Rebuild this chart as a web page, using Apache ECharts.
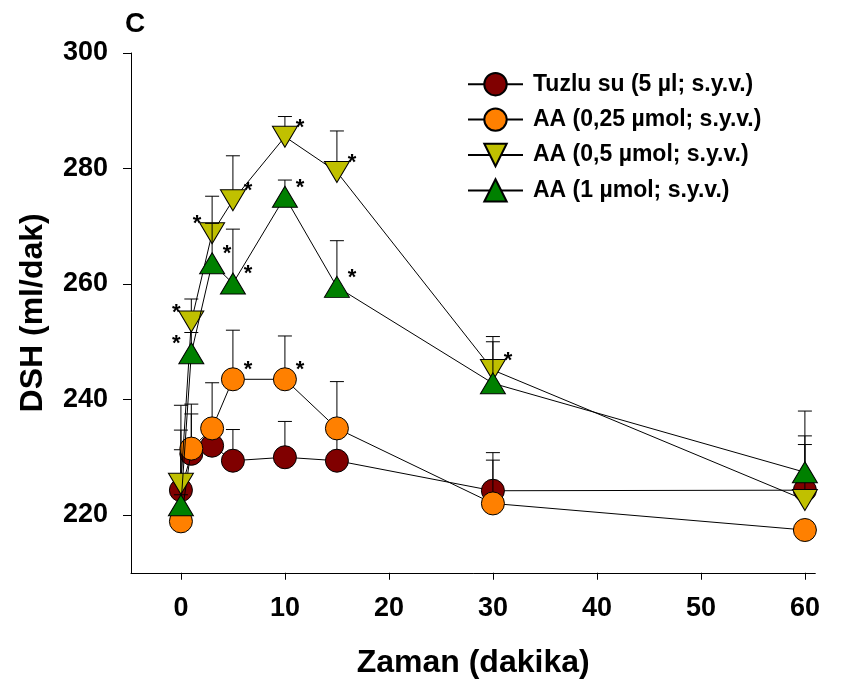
<!DOCTYPE html>
<html>
<head>
<meta charset="utf-8">
<title>DSH</title>
<script src="https://cdn.jsdelivr.net/npm/echarts@6/dist/echarts.min.js"></script>
<style>
  html, body { margin: 0; padding: 0; background: #fff; }
  #main { width: 842px; height: 688px; }
</style>
</head>
<body>
<div id="main"></div>
<script>
// zaman noktalari (dakika)
var times = [0, 1, 3, 5, 10, 15, 30, 60];

// ortalama degerler ve hata cubugu ust uclari
var tuzlu = [224.3, 230.6, 232.0, 229.4, 230.0, 229.4, 224.2, 224.3];
var tuzluHi = [234.7, 237.5, 234.5, 234.8, 236.2, 234.0, 230.8, 232.2];
var aa025 = [218.9, 231.5, 235.0, 243.5, 243.5, 235.0, 222.0, 217.4];
var aa025Hi = [231.3, 239.2, 242.9, 252.0, 251.0, 243.1, 229.5, 218.5];
var aa05 = [225.4, 253.5, 268.8, 274.5, 285.5, 279.4, 245.1, 222.6];
var aa05Hi = [239.0, 257.4, 275.2, 282.2, 289.0, 286.5, 250.9, 233.7];
var aa1 = [221.7, 248.0, 263.6, 260.1, 275.1, 259.5, 242.8, 227.4];
var aa1Hi = [223.5, 251.6, 270.5, 269.5, 278.0, 267.5, 250.0, 238.0];

// anlamlilik yildizlari: 'r' sag, 'l' sol, '' yok
var tuzluSig = ['', '', '', '', '', '', '', ''];
var aa025Sig = ['', '', '', 'r', 'r', '', '', ''];
var aa05Sig = ['', 'l', 'l', 'r', 'r', 'r', 'r', ''];
var aa1Sig = ['', 'l', 'r', 'r', 'r', 'r', '', ''];

var names = [
  'Tuzlu su (5 µl; s.y.v.)',
  'AA (0,25 µmol; s.y.v.)',
  'AA (0,5 µmol; s.y.v.)',
  'AA (1 µmol; s.y.v.)'
];

var xTicks = [0, 10, 20, 30, 40, 50, 60];
var yTicks = [220, 240, 260, 280, 300];

var FONT = 'Liberation Sans, Arial, sans-serif';

var groups = [
  { name: names[0], vals: tuzlu, hi: tuzluHi, sig: tuzluSig, color: '#800000', symbol: 'circle', size: 23, rotate: 0 },
  { name: names[1], vals: aa025, hi: aa025Hi, sig: aa025Sig, color: '#ff8000', symbol: 'circle', size: 23, rotate: 0 },
  { name: names[2], vals: aa05, hi: aa05Hi, sig: aa05Sig, color: '#c0c000', symbol: 'triangle', size: [25, 21], rotate: 180 },
  { name: names[3], vals: aa1, hi: aa1Hi, sig: aa1Sig, color: '#008000', symbol: 'triangle', size: [25, 21], rotate: 0 }
];

var series = [];
groups.forEach(function (g, gi) {
  var rows = times.map(function (t, i) { return [t, g.vals[i], g.hi[i]]; });
  // hata cubuklari (sadece ust)
  series.push({
    type: 'custom',
    data: rows,
    z: 1 + gi * 3,
    silent: true,
    encode: { x: 0, y: [1, 2] },
    renderItem: function (params, api) {
      var p0 = api.coord([api.value(0), api.value(1)]);
      var p1 = api.coord([api.value(0), api.value(2)]);
      var st = { stroke: '#000', lineWidth: 1 };
      return {
        type: 'group',
        children: [
          { type: 'line', shape: { x1: p0[0], y1: p0[1], x2: p1[0], y2: p1[1] }, style: st },
          { type: 'line', shape: { x1: p1[0] - 7, y1: p1[1], x2: p1[0] + 7, y2: p1[1] }, style: st }
        ]
      };
    }
  });
  series.push({
    type: 'line',
    name: g.name,
    data: rows.map(function (r) { return [r[0], r[1]]; }),
    z: 2 + gi * 3,
    symbol: g.symbol,
    symbolSize: g.size,
    symbolRotate: g.rotate,
    showAllSymbol: true,
    lineStyle: { color: '#000', width: 1 },
    itemStyle: { color: g.color, borderColor: '#000', borderWidth: 1 },
    emphasis: { disabled: true }
  });
  // yildizlar
  series.push({
    type: 'custom',
    data: rows,
    z: 20,
    silent: true,
    encode: { x: 0, y: 1 },
    renderItem: function (params, api) {
      var side = g.sig[params.dataIndex];
      if (!side) return { type: 'group', children: [] };
      var p = api.coord([api.value(0), api.value(1)]);
      return {
        type: 'text',
        x: p[0] + (side === 'r' ? 15 : -15),
        y: p[1] - 9,
        style: {
          text: '*', fill: '#000', font: 'bold 22px ' + FONT,
          align: 'center', verticalAlign: 'middle'
        }
      };
    }
  });
});

var chart = echarts.init(document.getElementById('main'));
chart.setOption({
  animation: false,
  backgroundColor: '#fff',
  title: {
    text: 'C',
    left: 120,
    top: 5,
    textStyle: { fontFamily: FONT, fontSize: 28, fontWeight: 'bold', color: '#000' }
  },
  legend: {
    data: names,
    orient: 'vertical',
    left: 462,
    top: 67,
    itemWidth: 55,
    itemHeight: 28,
    itemGap: 11,
    selectedMode: false,
    textStyle: { fontFamily: FONT, fontSize: 23, fontWeight: 'bold', color: '#000', padding: [0, 0, 0, 5] }
  },
  grid: { left: 131, right: 26.7, top: 53, bottom: 115.25 },
  xAxis: {
    type: 'value',
    min: -4.8,
    max: 61,
    name: 'Zaman (dakika)',
    nameLocation: 'middle',
    nameGap: 74,
    nameTextStyle: { fontFamily: FONT, fontSize: 32, fontWeight: 'bold', color: '#000' },
    axisLine: { show: true, onZero: false, lineStyle: { color: '#000', width: 1 } },
    axisTick: { show: true, length: 7, customValues: xTicks, lineStyle: { color: '#000' } },
    axisLabel: { customValues: xTicks, margin: 22, fontFamily: FONT, fontSize: 27, fontWeight: 'bold', color: '#000' },
    splitLine: { show: false }
  },
  yAxis: {
    type: 'value',
    min: 210,
    max: 300,
    name: 'DSH (ml/dak)',
    nameLocation: 'middle',
    nameGap: 82,
    nameTextStyle: { fontFamily: FONT, fontSize: 32, fontWeight: 'bold', color: '#000' },
    axisLine: { show: true, onZero: false, lineStyle: { color: '#000', width: 1 } },
    axisTick: { show: true, length: 8, customValues: yTicks, lineStyle: { color: '#000' } },
    axisLabel: { customValues: yTicks, margin: 23, fontFamily: FONT, fontSize: 27, fontWeight: 'bold', color: '#000' },
    splitLine: { show: false }
  },
  series: series
});
</script>
</body>
</html>
